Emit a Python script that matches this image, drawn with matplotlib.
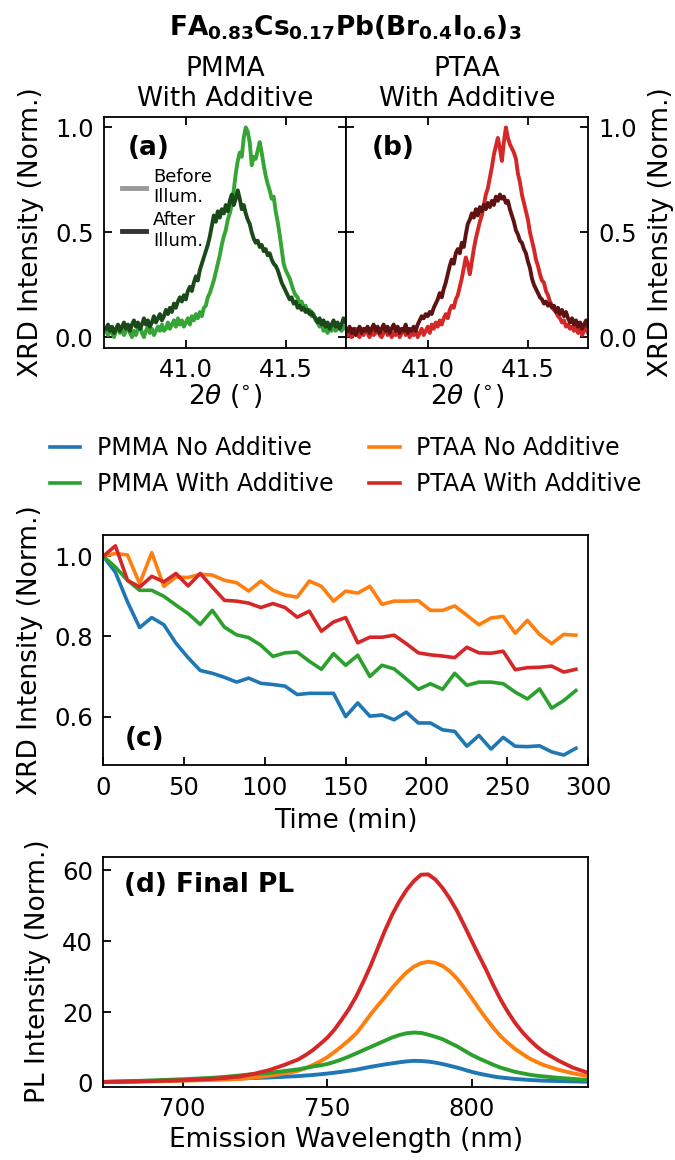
import matplotlib
matplotlib.use("Agg")
import matplotlib.pyplot as plt
from matplotlib.lines import Line2D

# ---- XRD peak, panels (a) and (b) ----
two_theta = [40.60, 40.61, 40.62, 40.63, 40.64, 40.65, 40.66, 40.67, 40.68, 40.69,
             40.70, 40.71, 40.72, 40.73, 40.74, 40.75, 40.76, 40.77, 40.78, 40.79,
             40.80, 40.81, 40.82, 40.83, 40.84, 40.85, 40.86, 40.87, 40.88, 40.89,
             40.90, 40.91, 40.92, 40.93, 40.94, 40.95, 40.96, 40.97, 40.98, 40.99,
             41.00, 41.01, 41.02, 41.03, 41.04, 41.05, 41.06, 41.07, 41.08, 41.09,
             41.10, 41.11, 41.12, 41.13, 41.14, 41.15, 41.16, 41.17, 41.18, 41.19,
             41.20, 41.21, 41.22, 41.23, 41.24, 41.25, 41.26, 41.27, 41.28, 41.29,
             41.30, 41.31, 41.32, 41.33, 41.34, 41.35, 41.36, 41.37, 41.38, 41.39,
             41.40, 41.41, 41.42, 41.43, 41.44, 41.45, 41.46, 41.47, 41.48, 41.49,
             41.50, 41.51, 41.52, 41.53, 41.54, 41.55, 41.56, 41.57, 41.58, 41.59,
             41.60, 41.61, 41.62, 41.63, 41.64, 41.65, 41.66, 41.67, 41.68, 41.69,
             41.70, 41.71, 41.72, 41.73, 41.74, 41.75, 41.76, 41.77, 41.78, 41.79,
             41.80]

pmma_before = [0.03, 0.01, 0.04, 0.02, 0.00, 0.03, 0.05, 0.02, 0.04, 0.01,
               0.03, 0.05, 0.02, 0.00, 0.03, 0.01, 0.04, 0.06, 0.02, 0.00,
               0.03, 0.05, 0.02, 0.04, 0.01, 0.03, 0.05, 0.03, 0.06, 0.03,
               0.04, 0.07, 0.04, 0.06, 0.08, 0.05, 0.09, 0.06, 0.08, 0.05,
               0.07, 0.09, 0.06, 0.10, 0.08, 0.11, 0.09, 0.12, 0.10, 0.14,
               0.15, 0.19, 0.21, 0.24, 0.27, 0.31, 0.35, 0.39, 0.44, 0.48,
               0.51, 0.56, 0.59, 0.63, 0.70, 0.78, 0.84, 0.88, 0.86, 0.95,
               1.00, 0.98, 0.93, 0.82, 0.86, 0.85, 0.89, 0.93, 0.88, 0.82,
               0.77, 0.73, 0.70, 0.66, 0.67, 0.60, 0.55, 0.49, 0.42, 0.35,
               0.32, 0.30, 0.28, 0.25, 0.22, 0.20, 0.19, 0.16, 0.17, 0.14,
               0.15, 0.12, 0.13, 0.10, 0.11, 0.08, 0.07, 0.05, 0.06, 0.03,
               0.04, 0.02, 0.04, 0.03, 0.05, 0.03, 0.04, 0.06, 0.03, 0.05,
               0.04]
pmma_after = [0.04, 0.06, 0.03, 0.05, 0.02, 0.04, 0.06, 0.03, 0.05, 0.07,
              0.04, 0.06, 0.03, 0.06, 0.08, 0.05, 0.07, 0.04, 0.06, 0.09,
              0.06, 0.08, 0.05, 0.07, 0.10, 0.07, 0.09, 0.11, 0.08, 0.10,
              0.13, 0.11, 0.14, 0.12, 0.16, 0.14, 0.17, 0.19, 0.17, 0.20,
              0.18, 0.22, 0.24, 0.22, 0.26, 0.29, 0.27, 0.32, 0.35, 0.38,
              0.41, 0.44, 0.48, 0.53, 0.58, 0.55, 0.60, 0.57, 0.61, 0.59,
              0.63, 0.60, 0.65, 0.68, 0.63, 0.66, 0.70, 0.66, 0.61, 0.63,
              0.59, 0.56, 0.54, 0.50, 0.47, 0.45, 0.46, 0.43, 0.44, 0.41,
              0.42, 0.39, 0.40, 0.37, 0.35, 0.34, 0.32, 0.29, 0.26, 0.24,
              0.22, 0.20, 0.18, 0.19, 0.16, 0.17, 0.14, 0.15, 0.13, 0.14,
              0.12, 0.13, 0.11, 0.12, 0.10, 0.09, 0.07, 0.09, 0.06, 0.08,
              0.05, 0.07, 0.04, 0.06, 0.08, 0.05, 0.07, 0.04, 0.06, 0.09,
              0.07]
ptaa_before = [0.01, 0.03, 0.00, 0.02, 0.04, 0.01, 0.00, 0.03, 0.01, 0.04,
               0.02, 0.00, 0.03, 0.01, 0.02, 0.04, 0.01, 0.00, 0.02, 0.04,
               0.01, 0.03, 0.00, 0.02, 0.01, 0.03, 0.00, 0.02, 0.04, 0.01,
               0.03, 0.00, 0.02, 0.01, 0.03, 0.00, 0.02, 0.04, 0.01, 0.03,
               0.05, 0.02, 0.06, 0.04, 0.07, 0.05, 0.08, 0.06, 0.09, 0.11,
               0.09, 0.13, 0.15, 0.14, 0.18, 0.20, 0.24, 0.28, 0.33, 0.38,
               0.35, 0.30, 0.36, 0.42, 0.47, 0.51, 0.55, 0.58, 0.63, 0.68,
               0.71, 0.76, 0.81, 0.87, 0.91, 0.95, 0.90, 0.84, 0.93, 1.00,
               0.95, 0.92, 0.90, 0.88, 0.85, 0.78, 0.74, 0.68, 0.64, 0.60,
               0.56, 0.50, 0.46, 0.42, 0.37, 0.34, 0.30, 0.27, 0.26, 0.22,
               0.20, 0.17, 0.15, 0.13, 0.12, 0.10, 0.09, 0.07, 0.08, 0.05,
               0.06, 0.04, 0.05, 0.03, 0.05, 0.02, 0.04, 0.01, 0.03, 0.05,
               0.02]
ptaa_after = [0.03, 0.05, 0.02, 0.04, 0.01, 0.03, 0.05, 0.02, 0.04, 0.03,
              0.05, 0.02, 0.04, 0.06, 0.03, 0.05, 0.02, 0.04, 0.06, 0.03,
              0.05, 0.02, 0.04, 0.06, 0.03, 0.05, 0.02, 0.04, 0.03, 0.06,
              0.02, 0.04, 0.03, 0.05, 0.03, 0.06, 0.08, 0.10, 0.09, 0.11,
              0.10, 0.12, 0.11, 0.14, 0.16, 0.18, 0.21, 0.19, 0.23, 0.26,
              0.30, 0.34, 0.37, 0.35, 0.40, 0.42, 0.40, 0.45, 0.43, 0.49,
              0.54, 0.56, 0.59, 0.57, 0.61, 0.58, 0.62, 0.60, 0.63, 0.61,
              0.64, 0.62, 0.65, 0.63, 0.67, 0.65, 0.68, 0.66, 0.67, 0.64,
              0.65, 0.61, 0.58, 0.55, 0.51, 0.49, 0.46, 0.45, 0.42, 0.40,
              0.36, 0.33, 0.28, 0.25, 0.23, 0.21, 0.19, 0.18, 0.16, 0.17,
              0.15, 0.16, 0.14, 0.15, 0.12, 0.14, 0.11, 0.13, 0.10, 0.12,
              0.09, 0.07, 0.09, 0.06, 0.08, 0.05, 0.07, 0.04, 0.06, 0.08,
              0.05]

# ---- normalised XRD peak intensity vs time, panel (c) ----
time_min = [0, 7.5, 15, 22.5, 30, 37.5, 45, 52.5, 60, 67.5,
            75, 82.5, 90, 97.5, 105, 112.5, 120, 127.5, 135, 142.5,
            150, 157.5, 165, 172.5, 180, 187.5, 195, 202.5, 210, 217.5,
            225, 232.5, 240, 247.5, 255, 262.5, 270, 277.5, 285, 292.5]
pmma_no = [1.0, 0.96, 0.886, 0.822, 0.847, 0.829, 0.783, 0.747, 0.715, 0.708,
           0.698, 0.686, 0.696, 0.683, 0.68, 0.676, 0.655, 0.658, 0.658, 0.658,
           0.6, 0.634, 0.601, 0.604, 0.592, 0.611, 0.584, 0.584, 0.567, 0.563,
           0.526, 0.553, 0.519, 0.548, 0.526, 0.525, 0.527, 0.512, 0.504, 0.521]
ptaa_no = [1.0, 1.007, 1.003, 0.932, 1.009, 0.925, 0.948, 0.947, 0.955, 0.953,
           0.94, 0.934, 0.913, 0.938, 0.915, 0.903, 0.898, 0.938, 0.925, 0.888,
           0.913, 0.908, 0.925, 0.88, 0.888, 0.888, 0.889, 0.865, 0.865, 0.876,
           0.853, 0.829, 0.846, 0.85, 0.808, 0.84, 0.805, 0.782, 0.805, 0.803]
pmma_with = [1.0, 0.973, 0.94, 0.915, 0.915, 0.9, 0.878, 0.857, 0.83, 0.865,
             0.823, 0.804, 0.797, 0.778, 0.75, 0.759, 0.761, 0.738, 0.718, 0.757,
             0.728, 0.753, 0.7, 0.728, 0.719, 0.694, 0.668, 0.682, 0.668, 0.708,
             0.678, 0.686, 0.686, 0.682, 0.661, 0.644, 0.669, 0.621, 0.64, 0.665]
ptaa_with = [1.0, 1.026, 0.94, 0.923, 0.95, 0.936, 0.957, 0.926, 0.957, 0.923,
             0.89, 0.888, 0.883, 0.872, 0.882, 0.872, 0.848, 0.863, 0.813, 0.836,
             0.847, 0.784, 0.798, 0.798, 0.803, 0.782, 0.759, 0.754, 0.751, 0.747,
             0.773, 0.759, 0.758, 0.763, 0.717, 0.722, 0.723, 0.726, 0.711, 0.718]

# ---- final PL spectra, panel (d) ----
wavelength = [670, 675, 680, 685, 690, 695, 700, 705, 710, 715, 720, 725, 730, 735,
              740, 742.5, 745, 747.5, 750, 752.5, 755, 757.5, 760, 762.5,
              765, 767.5, 770, 772.5, 775, 777.5, 780, 782.5, 785, 787.5,
              790, 792.5, 795, 797.5, 800, 802.5, 805, 807.5, 810, 812.5,
              815, 817.5, 820, 822.5, 825, 830, 835, 840]
pl_pmma_no = [0.15, 0.2, 0.3, 0.4, 0.5, 0.65, 0.8, 0.9, 1.0, 1.15, 1.25, 1.35, 1.5, 1.7,
              1.9, 2.05, 2.2, 2.4, 2.6, 2.85, 3.1, 3.4, 3.7, 4.1,
              4.5, 4.85, 5.2, 5.5, 5.8, 6.05, 6.2, 6.15, 6.0, 5.7,
              5.3, 4.8, 4.3, 3.7, 3.1, 2.6, 2.2, 1.8, 1.5, 1.3,
              1.1, 0.95, 0.8, 0.7, 0.6, 0.5, 0.4, 0.3]
pl_ptaa_no = [0.2, 0.25, 0.3, 0.35, 0.4, 0.5, 0.6, 0.7, 0.8, 0.9, 1.1, 1.5, 2.0, 2.6,
              3.4, 4.1, 5.0, 6.0, 7.2, 8.7, 10.3, 12.0, 13.9, 16.5,
              19.3, 21.8, 24.2, 26.8, 29.1, 31.2, 32.8, 33.8, 34.2, 33.9,
              33.0, 31.5, 29.4, 26.8, 24.0, 21.0, 18.2, 15.6, 13.2, 11.3,
              9.6, 8.2, 6.9, 5.9, 5.0, 3.7, 2.7, 1.9]
pl_pmma_with = [0.2, 0.3, 0.4, 0.55, 0.7, 0.85, 1.0, 1.2, 1.4, 1.7, 2.1, 2.5, 2.8, 3.3,
                3.8, 4.2, 4.6, 4.9, 5.3, 5.9, 6.6, 7.4, 8.3, 9.2,
                10.1, 11.0, 11.9, 12.8, 13.5, 14.0, 14.2, 14.1, 13.6, 13.0,
                12.3, 11.3, 10.3, 9.1, 7.9, 6.9, 6.0, 5.1, 4.3, 3.7,
                3.1, 2.7, 2.3, 2.0, 1.8, 1.4, 1.1, 0.8]
pl_ptaa_with = [0.2, 0.3, 0.35, 0.4, 0.5, 0.6, 0.7, 0.9, 1.1, 1.4, 1.8, 2.6, 3.6, 5.0,
                6.6, 7.8, 9.2, 10.9, 12.7, 15.0, 17.8, 20.8, 24.3, 28.5,
                33.0, 38.0, 43.0, 47.5, 51.3, 54.5, 57.0, 58.8, 58.9, 57.4,
                55.0, 52.0, 48.5, 44.4, 40.2, 36.0, 32.0, 27.6, 23.6, 20.1,
                17.0, 14.4, 12.2, 10.3, 8.7, 6.3, 4.3, 2.9]

colors = ['tab:blue', 'tab:orange', 'tab:green', 'tab:red']
labels = ['PMMA No Additive', 'PTAA No Additive', 'PMMA With Additive', 'PTAA With Additive']

tick_fs = 17.5
label_fs = 19

fig = plt.figure(figsize=(6.75, 11.6), dpi=100)
ax_a = fig.add_axes([0.1541, 0.7003, 0.3578, 0.1989])
ax_b = fig.add_axes([0.5119, 0.7003, 0.3593, 0.1989])
ax_c = fig.add_axes([0.1530, 0.3401, 0.7181, 0.1987])
ax_d = fig.add_axes([0.1530, 0.0632, 0.7181, 0.1983])

for ax in [ax_a, ax_b, ax_c, ax_d]:
    for s in ax.spines.values():
        s.set_linewidth(1.3)
    ax.tick_params(direction='in', length=6, width=1.3, labelsize=tick_fs, pad=7.5)

# (a) PMMA with additive
ax_a.plot(two_theta, pmma_before, color='#35a535', lw=2.8)
ax_a.plot(two_theta, pmma_after, color='#1a4a1a', lw=2.8)
# (b) PTAA with additive
ax_b.plot(two_theta, ptaa_before, color='#d62728', lw=2.8)
ax_b.plot(two_theta, ptaa_after, color='#5e1212', lw=2.8)

for ax in [ax_a, ax_b]:
    ax.set_xlim(40.59, 41.8)
    ax.set_ylim(-0.05, 1.05)
    ax.set_xticks([41.0, 41.5])
    ax.set_yticks([0.0, 0.5, 1.0])
    ax.tick_params(top=True, right=True)
    ax.set_xlabel(r'2$\theta$ ($^{\circ}$)', fontsize=label_fs, labelpad=0)

ax_a.set_ylabel('XRD Intensity (Norm.)', fontsize=label_fs, labelpad=8)
ax_b.tick_params(labelleft=False, labelright=True)
ax_b.yaxis.set_label_position('right')
ax_b.set_ylabel('XRD Intensity (Norm.)', fontsize=label_fs, labelpad=8)

ax_a.set_title('PMMA\nWith Additive', fontsize=label_fs, pad=8)
ax_b.set_title('PTAA\nWith Additive', fontsize=label_fs, pad=8)

ax_a.text(0.1, 0.92, '(a)', transform=ax_a.transAxes, fontsize=19, fontweight='bold', va='top')
ax_b.text(0.11, 0.92, '(b)', transform=ax_b.transAxes, fontsize=19, fontweight='bold', va='top')

illum = [Line2D([], [], color='#999999', lw=3.5), Line2D([], [], color='#333333', lw=3.5)]
ax_a.legend(illum, ['Before\nIllum.', 'After\nIllum.'], loc='upper left',
            bbox_to_anchor=(0.075, 0.78), frameon=False, fontsize=13,
            handlelength=1.3, handletextpad=0.4, labelspacing=0.25,
            borderpad=0, borderaxespad=0)

# (c) XRD intensity vs time
c_series = [pmma_no, ptaa_no, pmma_with, ptaa_with]
lines = []
for y, c, lab in zip(c_series, colors, labels):
    ln, = ax_c.plot(time_min, y, color=c, lw=2.6, label=lab)
    lines.append(ln)
ax_c.set_xlim(0, 300)
ax_c.set_ylim(0.478, 1.053)
ax_c.set_xticks([0, 50, 100, 150, 200, 250, 300])
ax_c.set_yticks([0.6, 0.8, 1.0])
ax_c.set_xlabel('Time (min)', fontsize=label_fs, labelpad=6)
ax_c.set_ylabel('XRD Intensity (Norm.)', fontsize=label_fs, labelpad=8)
ax_c.text(0.045, 0.06, '(c)', transform=ax_c.transAxes, fontsize=19, fontweight='bold', va='bottom')

# (d) final PL
d_series = [pl_pmma_no, pl_ptaa_no, pl_pmma_with, pl_ptaa_with]
for y, c in zip(d_series, colors):
    ax_d.plot(wavelength, y, color=c, lw=2.8)
ax_d.set_xlim(672.5, 840.3)
ax_d.set_ylim(-1.1, 63.9)
ax_d.set_xticks([700, 750, 800])
ax_d.set_yticks([0, 20, 40, 60])
ax_d.set_xlabel('Emission Wavelength (nm)', fontsize=label_fs)
ax_d.set_ylabel('PL Intensity (Norm.)', fontsize=label_fs, labelpad=8)
ax_d.text(0.043, 0.935, '(d) Final PL', transform=ax_d.transAxes, fontsize=19, fontweight='bold', va='top')

# shared legend between (a,b) and (c)
order = [0, 2, 1, 3]
fig.legend([lines[i] for i in order], [labels[i] for i in order], loc='center',
           bbox_to_anchor=(0.512, 0.598), ncol=2, frameon=False, fontsize=17,
           handlelength=1.3, handletextpad=0.7, columnspacing=1.5)

fig.text(0.512, 0.9698,
         r'FA$_{\mathbf{0.83}}$Cs$_{\mathbf{0.17}}$Pb(Br$_{\mathbf{0.4}}$I$_{\mathbf{0.6}}$)$_{\mathbf{3}}$',
         ha='center', va='baseline', fontsize=19, fontweight='bold')

fig.savefig('out.png', dpi=100)
